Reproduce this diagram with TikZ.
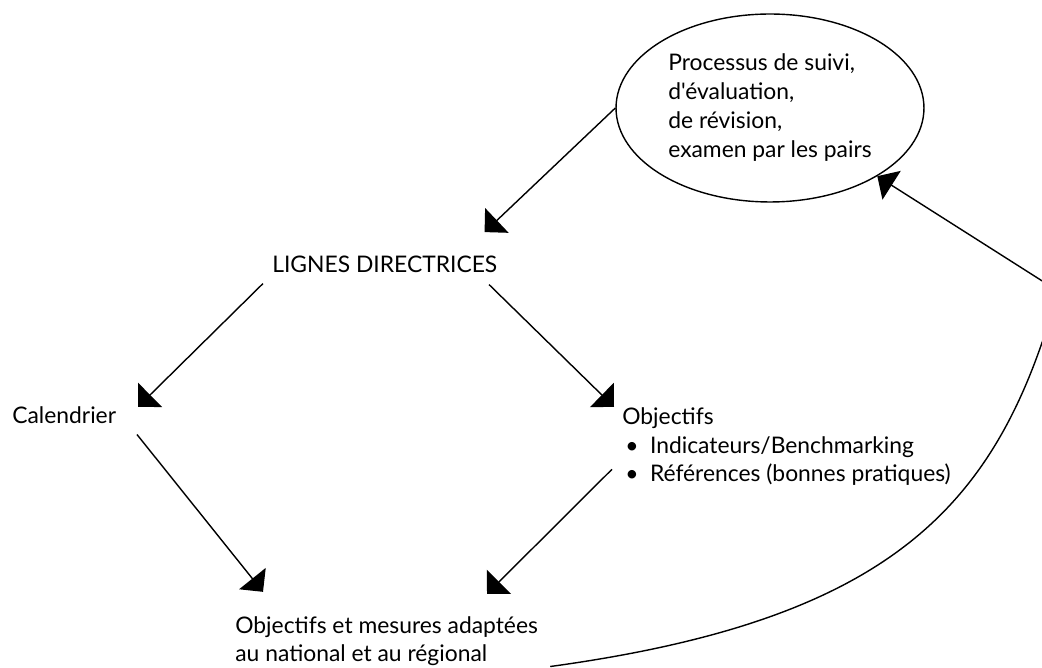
\documentclass[tikz,border=0pt]{standalone}
\usepackage{fontspec}
\setmainfont{Lato}[Ligatures=TeXOff]
\usetikzlibrary{positioning,shapes.geometric,arrows.meta}

\begin{document}
\begin{tikzpicture}[x=0.02cm,y=-0.02cm,
		texte/.style={inner sep=0pt,font=\fontsize{13}{16.5}\selectfont,align=left},
		fleche/.style={line width=0.8pt,-{Triangle[angle=90:0.48cm]}}]
		\useasboundingbox (0,0) rectangle (1042,668);
		
		\node[texte,draw,ellipse,line width=0.8pt,minimum width=6.16cm,minimum height=3.76cm] (proc) at (770,108) {Processus de suivi,\\d'évaluation,\\de révision,\\examen par les pairs};
		
		\node[texte,anchor=base west] (lignes) at (272,273) {LIGNES DIRECTRICES};
		
		\node[texte,anchor=base west] (cal) at (12,424) {Calendrier};
		\node[texte,anchor=base west] (obj) at (622,482) {Objectifs\\\hspace*{0.06cm}\textbullet\enspace Indicateurs/Benchmarking\\\hspace*{0.06cm}\textbullet\enspace Références (bonnes pratiques)};
		
		\node[texte,anchor=base west] (res) at (235,662) {Objectifs et mesures adaptées\\au national et au régional};
		
		\coordinate (coin) at (1058,291);
		
		\draw[fleche] (proc.west) -- ([shift={(-13,-24)}]lignes.north east);
		\draw[fleche] ([shift={(-9,10)}]lignes.south west) -- ([shift={(126,0)}]cal.north west);
		\draw[fleche] ([shift={(217,11)}]lignes.south west) -- ([shift={(-8,0)}]obj.north west);
		\draw[fleche] ([shift={(125,10)}]cal.south west) -- ([shift={(28,-24)}]res.north west);
		\draw[fleche] ([shift={(-10,-17)}]obj.south west) -- ([shift={(252,-22)}]res.north west);
		\draw[fleche] ([shift={(12,0)}]res.south east) .. controls (897,619) and (999,503) .. (coin) -- (proc);
	\end{tikzpicture}
\end{document}
